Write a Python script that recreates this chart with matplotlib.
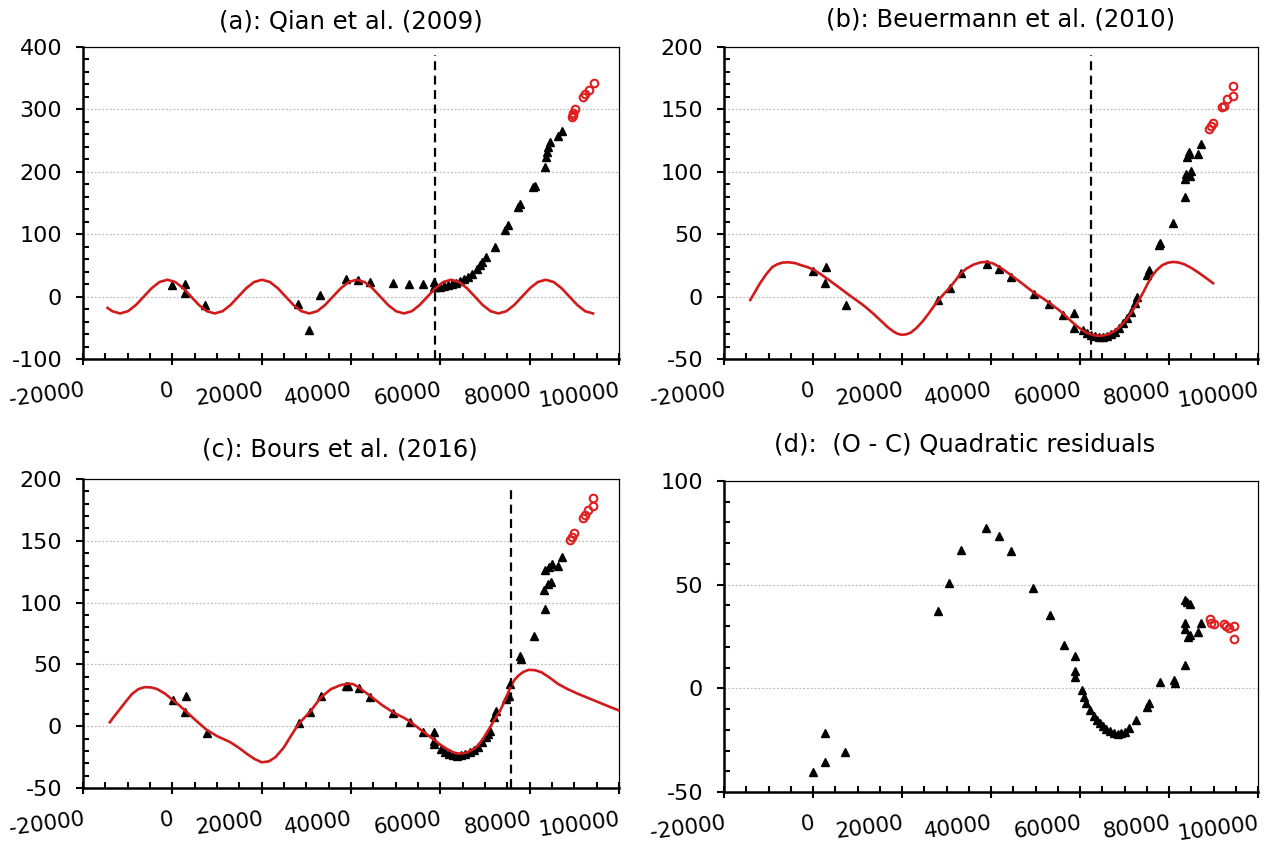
import matplotlib
matplotlib.use('Agg')
import matplotlib.pyplot as plt
from matplotlib.ticker import MultipleLocator

plt.rcParams['font.family'] = ['DejaVu Sans']

# ---------------- data ----------------
x_ticks = [-20000, 0, 20000, 40000, 60000, 80000, 100000]
x_tick_labels = ['-20000', '0', '20000', '40000', '60000', '80000', '100000']

titles = ['(a): Qian et al. (2009)', '(b): Beuermann et al. (2010)',
          '(c): Bours et al. (2016)', '(d):  (O - C) Quadratic residuals']

# panel (a)
a_tri_x = [0, 2800, 2800, 7400, 28100, 30700, 33100, 38900, 41600, 44300, 49400, 53000, 56200,
           58500, 58500, 59000, 59900, 60800, 61700, 62600, 63500, 64400, 65300, 66200, 67100,
           68100, 68800, 69400, 70300, 72200, 74500, 75200, 77400, 77800, 80800, 81100, 83400,
           83600, 83800, 84000, 84500, 86300, 87200]
a_tri_y = [19, 5, 20, -13, -12, -54, 3, 28, 27, 24, 21, 20, 20,
           24, 16, 15, 16, 17, 18.7, 20, 22, 25, 28, 32, 37,
           44, 51, 56, 64, 80, 107, 115, 144, 149, 176, 178, 208,
           224, 232, 240, 248, 258, 266]
a_new_x = [89400, 89600, 89800, 90150, 92000, 92400, 93350, 94400]
a_new_y = [288, 291, 295, 300, 320, 324, 331, 342]
a_fit_x = [-14500, -13452, -11688, -9923, -8158, -6394, -4629, -2865, -1100, 665, 2429, 4194,
           5958, 7723, 9488, 11252, 13017, 14781, 16546, 18310, 20075, 21840, 23604, 25369,
           27134, 28898, 30663, 32427, 34192, 35957, 37721, 39486, 41250, 43015, 44780, 46544,
           48309, 50073, 51838, 53603, 55367, 57132, 58896, 60661, 62426, 64190, 65955, 67719,
           69484, 71249, 73013, 74778, 76542, 78307, 80072, 81836, 83601, 85366, 87130, 88895,
           90659, 92424, 94189]
a_fit_y = [-18.1, -23.4, -27, -23.4, -13.5, 0, 13.5, 23.4, 27, 23.4, 13.5, 0,
           -13.5, -23.4, -27, -23.4, -13.5, 0, 13.5, 23.4, 27, 23.4, 13.5, 0,
           -13.5, -23.4, -27, -23.4, -13.5, 0, 13.5, 23.4, 27, 23.4, 13.5, 0,
           -13.5, -23.4, -27, -23.4, -13.5, 0, 13.5, 23.4, 27, 23.4, 13.5, 0,
           -13.5, -23.4, -27, -23.4, -13.5, 0, 13.5, 23.4, 27, 23.4, 13.5, 0,
           -13.5, -23.4, -27]
a_split = 58700

# panel (b)
b_tri_x = [0, 2900, 2800, 7400, 28200, 30700, 33200, 39000, 41700, 44400, 49700, 53100, 56200,
           58600, 58600, 60700, 61600, 62400, 63300, 64200, 65100, 66000, 66900, 67800, 68800,
           69600, 70500, 71400, 72300, 72800, 75000, 75500, 77700, 78000, 80900, 83600, 83600,
           83900, 84000, 84400, 84500, 84700, 84900, 86600, 87200]
b_tri_y = [20.8, 24, 10.7, -6.7, -2.7, 6.7, 19.2, 26, 21.9, 15.5, 2.1, -5.9, -14.7,
           -13.3, -25.3, -26.6, -29.3, -30.6, -31.4, -32, -32, -31.4, -30, -28, -25.3,
           -21.3, -17.3, -12, -5.3, 0, 17.3, 21, 41.3, 43, 58.6, 80, 94.6,
           98.6, 112, 116, 114.6, 97, 101, 114.6, 122]
b_new_x = [89000, 89500, 89900, 91900, 92400, 93100, 94300, 94300]
b_new_y = [134.6, 136.5, 139, 152, 153, 158, 161, 168.4]
b_fit_x = [-14100, -13000, -11900, -10500, -9200, -8000, -6800, -5500, -4000, -2800, -1400, 0,
           1800, 3500, 5800, 8100, 10000, 11700, 13500, 15300, 16800, 18000, 19000, 20000,
           21000, 22000, 23300, 24600, 26000, 27200, 28200, 29500, 30700, 32000, 33200, 34500,
           36000, 37500, 39000, 40500, 42000, 44400, 47000, 49700, 51500, 53100, 55000, 56200,
           57500, 58600, 59600, 61000, 62400, 63500, 64500, 65500, 66500, 67800, 69000, 70300,
           71400, 72300, 73300, 74300, 75300, 76300, 77300, 78500, 79800, 81000, 82200, 83500,
           85000, 86600, 88300, 89900]
b_fit_y = [-2.7, 4, 10.7, 18, 23.5, 26, 27.3, 27.5, 26.8, 25.3, 23.8, 21.9,
           17.8, 13.5, 7.5, 1.3, -3.5, -8, -13.5, -19.5, -24.5, -27.8, -29.8, -30.6,
           -30.2, -28.8, -25, -20, -13.5, -7.5, -2.7, 2.5, 7, 13, 18.5, 22.5,
           25.5, 27.3, 27.9, 26.5, 23.5, 17.5, 10.5, 3, -1, -5, -10, -13.5,
           -18, -21.5, -24.5, -28, -30.3, -31.2, -31.4, -31, -30, -27.5, -24, -19,
           -13.5, -8.5, -2.5, 4, 11, 17, 21.5, 25.2, 27.2, 27.8, 27.3, 25.8,
           23, 19.3, 15, 10.7]
b_split = 62500

# panel (c)
c_tri_x = [200, 3100, 2900, 7700, 28300, 30900, 33300, 38900, 39400, 41700, 44300, 49500, 53100,
           56200, 58600, 58600, 58600, 60200, 61100, 62000, 62900, 63800, 64700, 65600, 66600,
           67500, 68400, 69300, 70200, 70700, 71100, 72100, 72500, 74800, 75300, 75700, 77800,
           78000, 81000, 83500, 83300, 83500, 84000, 84400, 84700, 84900, 86400, 87200]
c_tri_y = [20.8, 24.8, 11.3, -5.4, 2.4, 11.3, 24.8, 32.4, 32.4, 30.8, 24, 10.8, 3.8,
           -4.9, -4.9, -14.8, -12, -18.4, -20.5, -22.4, -23.2, -23.8, -23.2, -22.4, -21,
           -19.2, -16.5, -13, -8.4, -6, -3.5, 7.3, 12.7, 22, 24.8, 34.3, 56.4,
           54.5, 72.9, 95, 110, 126.6, 114.7, 128.8, 116.4, 131.5, 129.6, 136.9]
c_new_x = [89000, 89500, 89900, 91900, 92300, 93000, 94200, 94200]
c_new_y = [150.4, 153, 156.3, 168.7, 170.6, 174.7, 177.9, 184.9]
c_fit_x = [-14000, -12800, -11700, -10300, -9000, -7600, -6200, -4800, -3500, -1700, 0, 1500,
           2900, 5000, 7700, 10000, 13000, 14900, 16700, 18400, 20000, 21600, 23100, 24900,
           26700, 28300, 30900, 33300, 35500, 37700, 39500, 40500, 41700, 44300, 47000, 49500,
           52000, 53100, 56200, 58600, 60000, 61500, 63000, 64000, 65000, 66100, 67300, 68400,
           69500, 70700, 72000, 73400, 74600, 75700, 76600, 77500, 78600, 79800, 81200, 82600,
           84400, 86300, 88500, 90800, 93100, 95400, 97700, 100000]
c_fit_y = [3.2, 9, 14, 20.5, 26.2, 30, 31.6, 31.4, 30.2, 26.5, 21.5, 17,
           12.5, 5.5, -3, -8, -13, -17.5, -22.4, -26.5, -29.2, -28.5, -25, -17.5,
           -7, 2, 12, 23.5, 30, 33.3, 34.3, 34, 31.5, 24.5, 17, 11,
           6.5, 4, -4.5, -11, -15, -18.5, -21.3, -22.2, -22, -21, -18.8, -15.7,
           -10.5, -3.5, 4.5, 12.7, 22, 31.6, 37.5, 41, 44, 45.6, 45.3, 43.7,
           39.5, 34.3, 30, 26.2, 22.8, 19.4, 16, 12.7]
c_split = 75900

# panel (d)
d_tri_x = [0, 2800, 2800, 7300, 28100, 30600, 33200, 38800, 41700, 44400, 49500, 53200, 56400,
           58800, 58800, 58800, 60500, 60900, 61400, 62300, 63200, 63900, 64500, 65200, 65900,
           66800, 67700, 68500, 69200, 70000, 70900, 72500, 75000, 75500, 78000, 81200, 81400,
           83600, 83500, 83600, 83600, 84000, 84700, 84300, 84700, 86600, 87300]
d_tri_y = [-40.2, -35.4, -21.7, -30.9, 37.5, 50.6, 66.7, 77.5, 73.5, 66.1, 48.2, 35.2, 20.9,
           15.8, 8.5, 5.3, -0.8, -4, -7, -10.5, -13.3, -15.3, -16.9, -18.2, -19.5,
           -20.4, -21.4, -22, -21.7, -20.9, -19.3, -15.3, -8.8, -7.2, 3.2, 4, 2.4,
           11.3, 28.5, 31.7, 42.6, 41.8, 40.7, 24.9, 25.7, 27.2, 31.7]
d_new_x = [89300, 89500, 90000, 92300, 92800, 93400, 94600, 94600]
d_new_y = [33.3, 31.4, 30.9, 31, 30.2, 28.9, 30.2, 23.6]

y_ticks_a = [-100, 0, 100, 200, 300, 400]
y_ticks_bc = [-50, 0, 50, 100, 150, 200]
y_ticks_d = [-50, 0, 50, 100]

# ---------------- figure ----------------
FIT_COLOR = '#D11A1A'
NEW_COLOR = '#E02020'

fig = plt.figure(figsize=(12.75, 8.48), dpi=100)

positions = {
    'a': [83 / 1275, 1 - 359 / 848, 536 / 1275, 312 / 848],
    'b': [724 / 1275, 1 - 359 / 848, 534 / 1275, 312 / 848],
    'c': [83 / 1275, 1 - 788 / 848, 536 / 1275, 309 / 848],
    'd': [724 / 1275, 1 - 792 / 848, 534 / 1275, 311 / 848],
}


def style(ax, yticks, yminor):
    ax.set_xlim(-20000, 100000)
    ax.set_ylim(yticks[0], yticks[-1])
    ax.set_xticks(x_ticks, x_tick_labels)
    ax.set_yticks(yticks, [str(v) for v in yticks])
    ax.xaxis.set_minor_locator(MultipleLocator(5000))
    ax.yaxis.set_minor_locator(MultipleLocator(yminor))
    ax.tick_params(axis='x', which='major', direction='inout', length=9, width=1.5,
                   labelsize=15.5, pad=11)
    ax.tick_params(axis='y', which='major', direction='out', length=5, width=1.5,
                   labelsize=16, pad=10)
    ax.tick_params(which='minor', direction='in', length=4.5, width=1.5)
    for lbl in ax.get_xticklabels():
        lbl.set_rotation(7.5)
        lbl.set_rotation_mode('anchor')
        lbl.set_ha('right')
        lbl.set_va('top')
    for side in ['left', 'bottom']:
        ax.spines[side].set_linewidth(1.8)
    for side in ['top', 'right']:
        ax.spines[side].set_linewidth(0.9)
    ax.yaxis.grid(True, which='major', linestyle=(0, (1.5, 1.5)), color='#BDBDBD', lw=0.9)
    ax.set_axisbelow(True)


def panel(key, yticks, yminor, tri_x, tri_y, new_x, new_y, fit_x=None, fit_y=None, split=None):
    ax = fig.add_axes(positions[key])
    style(ax, yticks, yminor)
    ax.plot(tri_x, tri_y, linestyle='none', marker='^', ms=6, color='black', zorder=3)
    ax.plot(new_x, new_y, linestyle='none', marker='o', ms=5.5, mfc='none',
            mec=NEW_COLOR, mew=1.5, zorder=3)
    if fit_x is not None:
        ax.plot(fit_x, fit_y, color=FIT_COLOR, lw=1.9, zorder=4, solid_joinstyle='round')
    if split is not None:
        ax.axvline(split, ymin=0, ymax=0.975, color='black', lw=1.6,
                   linestyle=(0, (4, 2.5)), zorder=5)
    return ax


panel('a', y_ticks_a, 20, a_tri_x, a_tri_y, a_new_x, a_new_y, a_fit_x, a_fit_y, a_split)
panel('b', y_ticks_bc, 10, b_tri_x, b_tri_y, b_new_x, b_new_y, b_fit_x, b_fit_y, b_split)
panel('c', y_ticks_bc, 10, c_tri_x, c_tri_y, c_new_x, c_new_y, c_fit_x, c_fit_y, c_split)
panel('d', y_ticks_d, 10, d_tri_x, d_tri_y, d_new_x, d_new_y)

title_pos = [(351, 21), (1001, 20), (340, 450), (965, 444)]
for t, (tx, ty) in zip(titles, title_pos):
    fig.text(tx / 1275, 1 - ty / 848, t, ha='center', va='center', fontsize=17.5)

fig.savefig('out.png', dpi=100)
